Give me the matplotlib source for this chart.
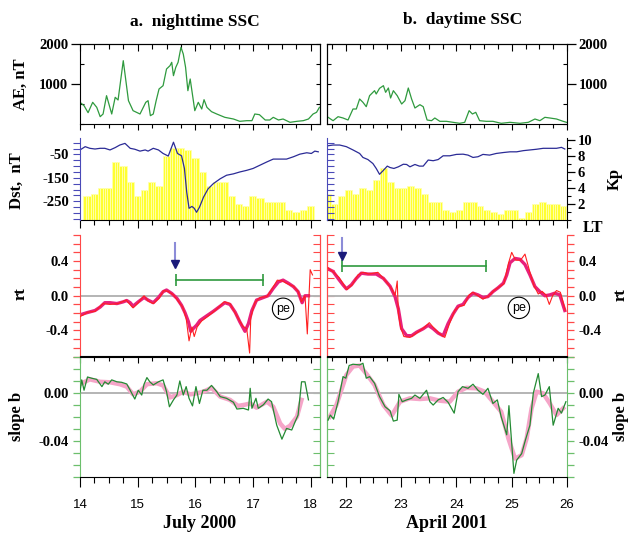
import numpy as np
import matplotlib.pyplot as plt
from matplotlib.ticker import MultipleLocator

plt.rcParams['font.family'] = 'Liberation Serif'
plt.rcParams['font.weight'] = 'bold'
plt.rcParams['axes.unicode_minus'] = False

# ---------------- a. nighttime SSC, July 2000 ----------------
days_jul = [14, 15, 16, 17, 18]
ae_t_jul = [14.00, 14.07, 14.14, 14.22, 14.29, 14.35, 14.40, 14.46, 14.55, 14.61, 14.66, 14.75, 14.84, 14.92, 15.04,
            15.14, 15.18, 15.22, 15.27, 15.32, 15.37, 15.44, 15.50, 15.56, 15.59, 15.62, 15.66, 15.70, 15.75, 15.79,
            15.83, 15.87, 15.91, 15.99, 16.05, 16.11, 16.15, 16.20, 16.28, 16.37, 16.51, 16.66, 16.77, 16.89, 16.98,
            17.03, 17.11, 17.21, 17.29, 17.35, 17.44, 17.52, 17.64, 17.76, 17.87, 17.96, 18.04, 18.10, 18.15]
ae_jul = [542, 458, 283, 542, 417, 183, 250, 708, 250, 667, 600, 1583, 583, 333, 250,
          542, 583, 208, 250, 583, 875, 958, 1375, 1458, 1542, 1208, 1417, 1542, 1917, 1750,
          1417, 833, 1125, 333, 542, 375, 608, 417, 308, 250, 167, 125, 67, 83, 83,
          250, 233, 100, 100, 167, 100, 125, 42, 67, 83, 125, 250, 292, 417]
dst_t_jul = [14.00, 14.09, 14.17, 14.26, 14.35, 14.43, 14.52, 14.61, 14.69, 14.78, 14.87, 14.95, 15.04, 15.13, 15.18,
             15.27, 15.36, 15.44, 15.53, 15.62, 15.69, 15.76, 15.81, 15.85, 15.89, 15.94, 15.98, 16.02, 16.07, 16.14,
             16.22, 16.31, 16.43, 16.54, 16.66, 16.77, 16.89, 17.00, 17.12, 17.24, 17.35, 17.47, 17.58, 17.70, 17.81,
             17.93, 18.01, 18.07, 18.13]
dst_jul = [-31, -17, -24, -27, -24, -24, -31, -21, -10, -3, -24, -28, -36, -31, -36,
           -24, -31, -46, -57, 2, -46, -56, -110, -211, -280, -272, -280, -297, -276, -233,
           -197, -175, -154, -139, -133, -125, -118, -110, -96, -82, -70, -70, -70, -60, -49,
           -43, -46, -36, -39]
kp_start_jul = 14.057
kp_jul = [3.0, 3.3, 4.0, 4.0, 7.3, 6.7, 4.7, 3.0, 3.7, 4.7, 4.3, 8.0, 9.0, 9.0, 8.7, 7.7,
          6.0, 4.3, 4.7, 4.7, 3.0, 2.0, 1.7, 3.0, 2.7, 2.3, 2.3, 2.3, 1.3, 1.0, 1.3, 1.7]
rt_t_jul = [14.00, 14.12, 14.26, 14.35, 14.43, 14.52, 14.64, 14.75, 14.81, 14.87, 14.92, 15.01, 15.11, 15.18, 15.27,
            15.36, 15.44, 15.50, 15.59, 15.68, 15.76, 15.82, 15.88, 15.92, 15.96, 16.02, 16.08, 16.20, 16.31, 16.43,
            16.51, 16.60, 16.69, 16.77, 16.86, 16.92, 16.98, 17.06, 17.18, 17.26, 17.35, 17.44, 17.52, 17.61, 17.70,
            17.78, 17.85, 17.90, 17.96]
rt_jul = [-0.22, -0.195, -0.17, -0.13, -0.08, -0.08, -0.09, -0.07, -0.055, -0.08, -0.12, -0.07, -0.02, -0.05, -0.08,
          -0.02, 0.047, 0.066, 0.027, -0.03, -0.11, -0.195, -0.30, -0.41, -0.38, -0.34, -0.285, -0.23, -0.18, -0.12,
          -0.08, -0.10, -0.19, -0.30, -0.41, -0.32, -0.17, -0.05, -0.02, 0.0, 0.086, 0.16, 0.18, 0.145, 0.105,
          0.047, -0.08, 0.0, 0.0]
rt_raw_t_jul = [14.00, 14.06, 14.13, 14.26, 14.40, 14.52, 14.66, 14.80, 14.92, 15.01, 15.11, 15.18, 15.27, 15.37, 15.45,
                15.53, 15.62, 15.70, 15.78, 15.84, 15.89, 15.94, 15.98, 16.03, 16.11, 16.23, 16.36, 16.50, 16.60, 16.70,
                16.82, 16.89, 16.94, 16.96, 17.03, 17.12, 17.24, 17.32, 17.42, 17.51, 17.59, 17.70, 17.78, 17.84, 17.90,
                17.94, 17.99, 18.03]
rt_raw_jul = [-0.24, -0.22, -0.19, -0.18, -0.09, -0.10, -0.09, -0.05, -0.14, -0.08, 0.0, -0.06, -0.09, -0.03, 0.06,
              0.05, 0.01, -0.06, -0.13, -0.26, -0.52, -0.36, -0.47, -0.36, -0.29, -0.23, -0.16, -0.07, -0.09, -0.21,
              -0.35, -0.38, -0.66, -0.25, -0.08, -0.02, -0.01, 0.07, 0.18, 0.17, 0.14, 0.11, 0.05, -0.07, 0.0,
              -0.44, 0.30, 0.24]
b_t_jul = [14.03, 14.17, 14.35, 14.52, 14.69, 14.81, 14.92, 15.04, 15.16, 15.33, 15.44, 15.56, 15.68, 15.79, 15.91,
           16.02, 16.14, 16.28, 16.43, 16.60, 16.74, 16.86, 16.95, 17.06, 17.24, 17.35, 17.47, 17.55, 17.64, 17.76,
           17.84]
b_jul = [0.0078, 0.011, 0.009, 0.0086, 0.007, 0.005, -0.0014, 0.0008, 0.007, 0.0078, 0.006, -0.004, -0.002, 0.0008,
         -0.0014, -0.0006, 0.0008, 0.004, -0.0033, -0.006, -0.011, -0.010, -0.009, -0.0125, -0.0075, -0.0117, -0.0256,
         -0.030, -0.0275, -0.02, -0.006]
b_raw_t_jul = [14.00, 14.03, 14.07, 14.13, 14.20, 14.29, 14.38, 14.43, 14.49, 14.55, 14.64, 14.72, 14.81, 14.87, 14.95,
               15.01, 15.07, 15.11, 15.16, 15.21, 15.27, 15.36, 15.44, 15.50, 15.55, 15.62, 15.68, 15.73, 15.79, 15.84,
               15.89, 15.95, 16.01, 16.07, 16.13, 16.20, 16.28, 16.37, 16.43, 16.54, 16.66, 16.72, 16.83, 16.92, 16.95,
               16.98, 17.05, 17.09, 17.18, 17.26, 17.32, 17.41, 17.50, 17.58, 17.67, 17.73, 17.78, 17.84, 17.90, 17.96]
b_raw_jul = [0.0008, 0.0106, 0.002, 0.013, 0.012, 0.011, 0.005, 0.009, 0.007, 0.0106, 0.009, 0.0086, 0.0072, 0.002,
             -0.0053, 0.002, -0.002, 0.007, 0.0125, 0.009, 0.0064, 0.009, 0.0106, 0.0008, -0.0117, -0.006, -0.002,
             0.0097, -0.002, 0.005, -0.0047, -0.011, 0.005, -0.009, 0.002, 0.002, 0.006, 0.0008, -0.0033, -0.0047,
             -0.008, -0.0136, -0.013, -0.0144, 0.0036, -0.013, -0.0047, -0.013, -0.010, -0.0053, -0.0075, -0.027,
             -0.0386, -0.0297, -0.031, -0.024, -0.0186, 0.009, 0.009, -0.006]
ssc_jul = (15.65, 0.61, 0.33)          # time, arrow top, arrow tip
span_jul = (15.66, 17.18, 0.18)        # start, end, level
pe_jul = (17.52, -0.15)

# ---------------- b. daytime SSC, April 2001 ----------------
days_apr = [22, 23, 24, 25, 26]
ae_t_apr = [21.68, 21.77, 21.86, 21.95, 22.04, 22.13, 22.19, 22.25, 22.31, 22.37, 22.43, 22.52, 22.55, 22.61, 22.68,
            22.72, 22.77, 22.81, 22.86, 22.93, 23.01, 23.07, 23.13, 23.19, 23.25, 23.34, 23.40, 23.47, 23.55, 23.61,
            23.70, 23.82, 23.94, 24.06, 24.15, 24.23, 24.29, 24.35, 24.42, 24.54, 24.66, 24.81, 24.97, 25.15, 25.30,
            25.42, 25.51, 25.60, 25.69, 25.81, 25.93, 25.99]
ae_apr = [167, 83, 183, 150, 100, 375, 375, 625, 542, 433, 708, 833, 750, 892, 958,
          792, 900, 650, 833, 708, 500, 583, 900, 625, 400, 483, 433, 100, 83, 150,
          67, 67, 42, 17, 42, 333, 250, 292, 83, 67, 67, 17, 42, 17, 42,
          125, 83, 167, 150, 125, 67, 42]
dst_t_apr = [21.68, 21.77, 21.89, 22.01, 22.13, 22.25, 22.31, 22.40, 22.49, 22.55, 22.61, 22.68, 22.75, 22.80, 22.87,
             22.95, 23.04, 23.10, 23.16, 23.25, 23.33, 23.40, 23.49, 23.58, 23.67, 23.76, 23.88, 24.00, 24.12, 24.21,
             24.30, 24.39, 24.48, 24.60, 24.72, 24.85, 24.97, 25.09, 25.21, 25.33, 25.45, 25.57, 25.69, 25.81, 25.90,
             25.96]
dst_apr = [-13, -10, -10, -17, -31, -46, -63, -72, -89, -110, -135, -118, -100, -106, -110,
           -103, -92, -93, -103, -93, -100, -100, -74, -77, -72, -56, -56, -50, -49, -53,
           -63, -60, -50, -53, -46, -42, -39, -39, -34, -31, -28, -24, -24, -24, -20,
           -27]
kp_start_apr = 21.615
kp_apr = [3.3, 2.0, 3.0, 3.7, 3.3, 4.0, 3.7, 5.0, 6.5, 4.7, 4.0, 4.0, 4.3, 4.0, 3.3, 2.3, 2.3, 1.3,
          1.0, 1.3, 2.3, 2.3, 1.7, 1.3, 1.0, 0.7, 1.3, 1.3, 0.3, 1.0, 2.0, 2.3, 2.0, 2.0, 1.7]
rt_t_apr = [21.68, 21.77, 21.86, 21.95, 22.01, 22.10, 22.19, 22.28, 22.40, 22.55, 22.68, 22.80, 22.89, 22.95, 23.01,
            23.10, 23.19, 23.28, 23.40, 23.49, 23.58, 23.67, 23.76, 23.85, 23.94, 24.03, 24.12, 24.21, 24.30, 24.39,
            24.48, 24.57, 24.66, 24.75, 24.85, 24.91, 24.97, 25.06, 25.15, 25.24, 25.33, 25.42, 25.51, 25.60, 25.69,
            25.78, 25.87, 25.96]
rt_apr = [0.31, 0.28, 0.20, 0.125, 0.08, 0.125, 0.20, 0.26, 0.25, 0.25, 0.20, 0.11, -0.01, -0.15, -0.38,
          -0.46, -0.46, -0.42, -0.38, -0.34, -0.38, -0.43, -0.46, -0.32, -0.21, -0.12, -0.10, -0.02, 0.03, 0.01,
          -0.02, -0.01, 0.047, 0.09, 0.145, 0.24, 0.38, 0.43, 0.42, 0.36, 0.24, 0.105, 0.047, 0.0, 0.01,
          0.03, 0.01, -0.17]
rt_raw_t_apr = [21.68, 21.78, 21.88, 21.97, 22.02, 22.12, 22.22, 22.31, 22.42, 22.58, 22.71, 22.83, 22.89, 22.93, 22.95,
                22.99, 23.05, 23.16, 23.28, 23.43, 23.51, 23.59, 23.70, 23.79, 23.87, 23.97, 24.06, 24.14, 24.23, 24.30,
                24.39, 24.48, 24.59, 24.68, 24.77, 24.86, 24.94, 25.00, 25.07, 25.16, 25.24, 25.33, 25.40, 25.48, 25.55,
                25.62, 25.68, 25.74, 25.81, 25.88, 25.97]
rt_raw_apr = [0.32, 0.27, 0.21, 0.12, 0.07, 0.13, 0.24, 0.27, 0.25, 0.27, 0.18, 0.08, 0.0, 0.17, -0.2,
              -0.36, -0.47, -0.48, -0.43, -0.36, -0.31, -0.37, -0.44, -0.48, -0.33, -0.17, -0.12, -0.11, 0.01, 0.04,
              0.0, -0.04, 0.0, 0.06, 0.1, 0.14, 0.37, 0.50, 0.41, 0.41, 0.48, 0.27, 0.12, 0.02, 0.05,
              0.01, -0.10, 0.0, 0.06, 0.04, -0.17]
b_t_apr = [21.71, 21.83, 21.92, 22.01, 22.13, 22.25, 22.37, 22.52, 22.68, 22.83, 22.98, 23.16, 23.34, 23.52, 23.70,
           23.88, 24.03, 24.18, 24.36, 24.51, 24.66, 24.81, 24.94, 25.06, 25.18, 25.27, 25.36, 25.45, 25.57, 25.69,
           25.81, 25.93]
b_apr = [-0.02, -0.0103, 0.0022, 0.0147, 0.0217, 0.0225, 0.0158, 0.0064, -0.0103, -0.019, -0.0075, -0.0047, -0.0053,
         -0.0047, -0.0067, -0.0075, 0.0008, 0.004, 0.0036, 0.0008, -0.0075, -0.0158, -0.038, -0.0547, -0.0519, -0.038,
         -0.013, 0.0008, -0.0006, -0.009, -0.0186, -0.013]
b_raw_t_apr = [21.68, 21.72, 21.78, 21.86, 21.95, 22.00, 22.06, 22.13, 22.25, 22.31, 22.37, 22.43, 22.52, 22.61, 22.71,
               22.80, 22.86, 22.93, 22.96, 23.02, 23.10, 23.19, 23.25, 23.34, 23.46, 23.52, 23.58, 23.67, 23.76, 23.85,
               23.96, 24.03, 24.11, 24.21, 24.30, 24.39, 24.48, 24.57, 24.66, 24.74, 24.81, 24.91, 24.95, 25.04, 25.09,
               25.18, 25.25, 25.33, 25.39, 25.48, 25.54, 25.60, 25.68, 25.75, 25.84, 25.90, 25.98]
b_raw_apr = [-0.0228, -0.0186, -0.022, -0.0075, 0.0133, 0.012, 0.0225, 0.0236, 0.023, 0.0244, 0.012, 0.0133, 0.0078,
             -0.0033, -0.0117, -0.015, -0.0236, -0.0228, -0.0014, -0.0075, -0.006, -0.0047, -0.002, -0.0047, 0.002,
             -0.0075, -0.0103, -0.006, -0.004, -0.008, -0.017, 0.0008, 0.005, 0.0036, 0.007, 0.002, -0.0014, 0.0036,
             -0.009, -0.006, -0.02, -0.035, -0.0108, -0.067, -0.056, -0.0506, -0.039, -0.027, -0.0006, 0.0158,
             -0.0033, -0.002, 0.005, -0.027, -0.013, -0.017, -0.0075]
ssc_apr = (21.93, 0.66, 0.42)
span_apr = (21.93, 24.54, 0.34)
pe_apr = (25.13, -0.14)

events = [
    dict(xlim=(14.0, 18.16), px=(80, 320), days=days_jul,
         ae_t=ae_t_jul, ae=ae_jul, dst_t=dst_t_jul, dst=dst_jul, kp0=kp_start_jul, kp=kp_jul,
         rt_t=rt_t_jul, rt=rt_jul, rtr_t=rt_raw_t_jul, rtr=rt_raw_jul,
         b_t=b_t_jul, b=b_jul, br_t=b_raw_t_jul, br=b_raw_jul,
         ssc=ssc_jul, span=span_jul, pe=pe_jul),
    dict(xlim=(21.66, 26.0), px=(327, 567), days=days_apr,
         ae_t=ae_t_apr, ae=ae_apr, dst_t=dst_t_apr, dst=dst_apr, kp0=kp_start_apr, kp=kp_apr,
         rt_t=rt_t_apr, rt=rt_apr, rtr_t=rt_raw_t_apr, rtr=rt_raw_apr,
         b_t=b_t_apr, b=b_apr, br_t=b_raw_t_apr, br=b_raw_apr,
         ssc=ssc_apr, span=span_apr, pe=pe_apr),
]

GREEN = '#2f9a3e'
NAVY = '#2b2b96'
BLUE = '#4a4ab8'
RED = '#ff4848'
LGREEN = '#6cbf6c'
PX = 0.72   # points per pixel at dpi 100
W, H = 632, 533


def rect(x0, x1, top, bot):
    return [x0 / W, 1 - bot / H, (x1 - x0) / W, (bot - top) / H]


def inner_y(ax, side, color, major, minor=None, length=5):
    sec = ax.secondary_yaxis(side)
    sec.yaxis.set_major_locator(MultipleLocator(major))
    if minor:
        sec.yaxis.set_minor_locator(MultipleLocator(minor))
    sec.tick_params(which='both', direction='in', length=length * PX, width=0.8, color=color,
                    labelleft=False, labelright=False)
    sec.spines[side].set_color(color)


def top_x(ax):
    sec = ax.secondary_xaxis('top')
    sec.xaxis.set_major_locator(MultipleLocator(1))
    sec.xaxis.set_minor_locator(MultipleLocator(0.25))
    sec.tick_params(which='major', direction='in', length=7 * PX, width=0.8, labeltop=False)
    sec.tick_params(which='minor', direction='in', length=4.5 * PX, width=0.8)


def bottom_x(ax, big, small):
    ax.xaxis.set_major_locator(MultipleLocator(1))
    ax.xaxis.set_minor_locator(MultipleLocator(0.25))
    ax.tick_params(axis='x', which='major', direction='out', length=big * PX, width=0.8, labelbottom=False)
    ax.tick_params(axis='x', which='minor', direction='out', length=small * PX, width=0.8)


fig = plt.figure(figsize=(6.32, 5.33), dpi=100)

for i, ev in enumerate(events):
    x0, x1 = ev['px']
    outer = 'left' if i == 0 else 'right'
    inner = 'right' if i == 0 else 'left'

    # AE
    ax = fig.add_axes(rect(x0, x1, 44, 124))
    ax.plot(ev['ae_t'], ev['ae'], color=GREEN, lw=0.9)
    ax.set_xlim(ev['xlim'])
    ax.set_ylim(0, 2000)
    ax.yaxis.set_ticks_position(outer)
    ax.set_yticks([1000, 2000], ['1000', '2000'])
    ax.yaxis.set_minor_locator(MultipleLocator(500))
    ax.tick_params(axis='y', which='major', direction='out', length=9 * PX, width=0.9, labelsize=10.5, pad=2)
    ax.tick_params(axis='y', which='minor', direction='in', length=4 * PX, width=0.8)
    bottom_x(ax, 6, 3.5)
    top_x(ax)
    inner_y(ax, inner, 'black', 500, length=4)

    # Kp bars + Dst
    axk = fig.add_axes(rect(x0, x1, 138, 220))
    kp_h = np.repeat(ev['kp'], 3)
    kp_t = ev['kp0'] + np.arange(len(kp_h)) / 24
    axk.bar(kp_t, kp_h, width=1 / 24, align='edge', color='#ffff30', edgecolor='#ffffb0', lw=0.6)
    axk.set_xlim(ev['xlim'])
    axk.set_ylim(0, 10.25)
    axd = axk.twinx()
    axd.plot(ev['dst_t'], ev['dst'], color=NAVY, lw=0.9)
    axd.set_ylim(-330, 20)
    for s in ['top', 'left', 'right']:
        axk.spines[s].set_visible(False)
    for s in ['top', 'bottom', 'right']:
        axd.spines[s].set_visible(False)
    axd.spines['left'].set_color(BLUE)
    axk.yaxis.tick_right()
    if i == 1:
        axk.spines['right'].set_visible(True)
        axk.set_yticks([2, 4, 6, 8, 10], ['2', '4', '6', '8', '10'])
        axk.yaxis.set_minor_locator(MultipleLocator(1))
        axk.tick_params(axis='y', which='major', direction='out', length=8 * PX, width=0.9, labelsize=10.5, pad=2)
        axk.tick_params(axis='y', which='minor', direction='out', length=4 * PX, width=0.8)
    else:
        axk.tick_params(axis='y', which='both', right=False, labelright=False)
    bottom_x(axk, 8, 4.5)
    axd.yaxis.tick_left()
    axd.set_yticks([-250, -150, -50], ['-250', '-150', '-50'])
    axd.yaxis.set_minor_locator(MultipleLocator(25))
    axd.tick_params(axis='y', which='both', direction='out' if i == 0 else 'in', length=7 * PX, width=0.8,
                    color=BLUE, labelsize=10.5, labelleft=(i == 0), pad=3)

    # rt
    ax = fig.add_axes(rect(x0, x1, 235, 356.5))
    ax.axhline(0, color='#b4b4b4', lw=1.4, zorder=1)
    ax.plot(ev['rt_t'], ev['rt'], color='#e8207c', lw=2.4, zorder=2)
    ax.plot(ev['rtr_t'], ev['rtr'], color='#ff2020', lw=0.8, zorder=3)
    t, ytop, ytip = ev['ssc']
    ax.plot([t, t], [ytop, ytip + 0.06], color='#8c8cd8', lw=1.5, zorder=4)
    ax.plot(t, ytip + 0.035, marker='v', ms=6, color='#1a1a7a', zorder=5)
    s0, s1, sy = ev['span']
    ax.plot([s0, s1], [sy, sy], color=GREEN, lw=1.2, marker='|', ms=8, mew=1.2, zorder=4)
    pt, py = ev['pe']
    ax.text(pt, py, 'pe', ha='center', va='center', fontsize=9, fontfamily='Liberation Sans',
            fontweight='normal', zorder=6,
            bbox=dict(boxstyle='circle,pad=0.3', fc='white', ec='black', lw=0.8))
    ax.set_xlim(ev['xlim'])
    ax.set_ylim(-0.7, 0.7)
    for s in ['top', 'bottom']:
        ax.spines[s].set_visible(False)
    for s in ['left', 'right']:
        ax.spines[s].set_color(RED)
    ax.tick_params(axis='x', which='both', bottom=False, top=False, labelbottom=False)
    ax.yaxis.set_ticks_position(outer)
    ax.set_yticks([-0.4, 0.0, 0.4], ['-0.4', '0.0', '0.4'])
    ax.yaxis.set_minor_locator(MultipleLocator(0.1))
    ax.tick_params(axis='y', which='both', direction='out', length=7 * PX, width=0.9, color=RED,
                   labelsize=10.5, pad=3)
    inner_y(ax, inner, RED, 0.1, length=7)

    # slope b
    ax = fig.add_axes(rect(x0, x1, 356.5, 477))
    ax.axhline(0, color='#b4b4b4', lw=1.4, zorder=1)
    ax.plot(ev['b_t'], ev['b'], color='#f5a5c8', lw=3.2, zorder=2)
    ax.plot(ev['br_t'], ev['br'], color='#248a33', lw=0.9, zorder=3)
    ax.set_xlim(ev['xlim'])
    ax.set_ylim(-0.07, 0.03)
    for s in ['left', 'right']:
        ax.spines[s].set_color(LGREEN)
    ax.yaxis.set_ticks_position(outer)
    ax.set_yticks([-0.04, 0.0], ['-0.04', '0.00'])
    ax.yaxis.set_minor_locator(MultipleLocator(0.01))
    ax.tick_params(axis='y', which='both', direction='out', length=7 * PX, width=0.9, color=LGREEN,
                   labelsize=10.5, pad=3)
    inner_y(ax, inner, LGREEN, 0.01, length=7)
    top_x(ax)
    ax.xaxis.set_minor_locator(MultipleLocator(0.25))
    ax.set_xticks(ev['days'], [str(d) for d in ev['days']], fontfamily='Liberation Sans',
                  fontweight='normal', fontsize=9.5)
    ax.tick_params(axis='x', which='major', direction='out', length=10 * PX, width=0.8, pad=9)
    ax.tick_params(axis='x', which='minor', direction='out', length=5.5 * PX, width=0.8)

fig.text(195 / W, 1 - 26 / H, 'a.  nighttime SSC', ha='center', va='baseline', fontsize=12.5)
fig.text(463 / W, 1 - 23.5 / H, 'b.  daytime SSC', ha='center', va='baseline', fontsize=12.5)
fig.text(21 / W, 1 - 84 / H, 'AE, nT', rotation=90, ha='center', va='center', fontsize=12)
fig.text(17 / W, 1 - 181 / H, 'Dst,  nT', rotation=90, ha='center', va='center', fontsize=12)
fig.text(21 / W, 1 - 294 / H, 'rt', rotation=90, ha='center', va='center', fontsize=12)
fig.text(17 / W, 1 - 416 / H, 'slope b', rotation=90, ha='center', va='center', fontsize=12)
fig.text(615 / W, 1 - 179 / H, 'Kp', rotation=90, ha='center', va='center', fontsize=12)
fig.text(621 / W, 1 - 295 / H, 'rt', rotation=90, ha='center', va='center', fontsize=12)
fig.text(621 / W, 1 - 416 / H, 'slope b', rotation=90, ha='center', va='center', fontsize=12)
fig.text(593 / W, 1 - 228 / H, 'LT', ha='center', va='center', fontsize=12)
fig.text(200 / W, 1 - 523 / H, 'July 2000', ha='center', va='center', fontsize=13)
fig.text(447 / W, 1 - 523 / H, 'April 2001', ha='center', va='center', fontsize=13)

fig.savefig('out.png', dpi=100)
